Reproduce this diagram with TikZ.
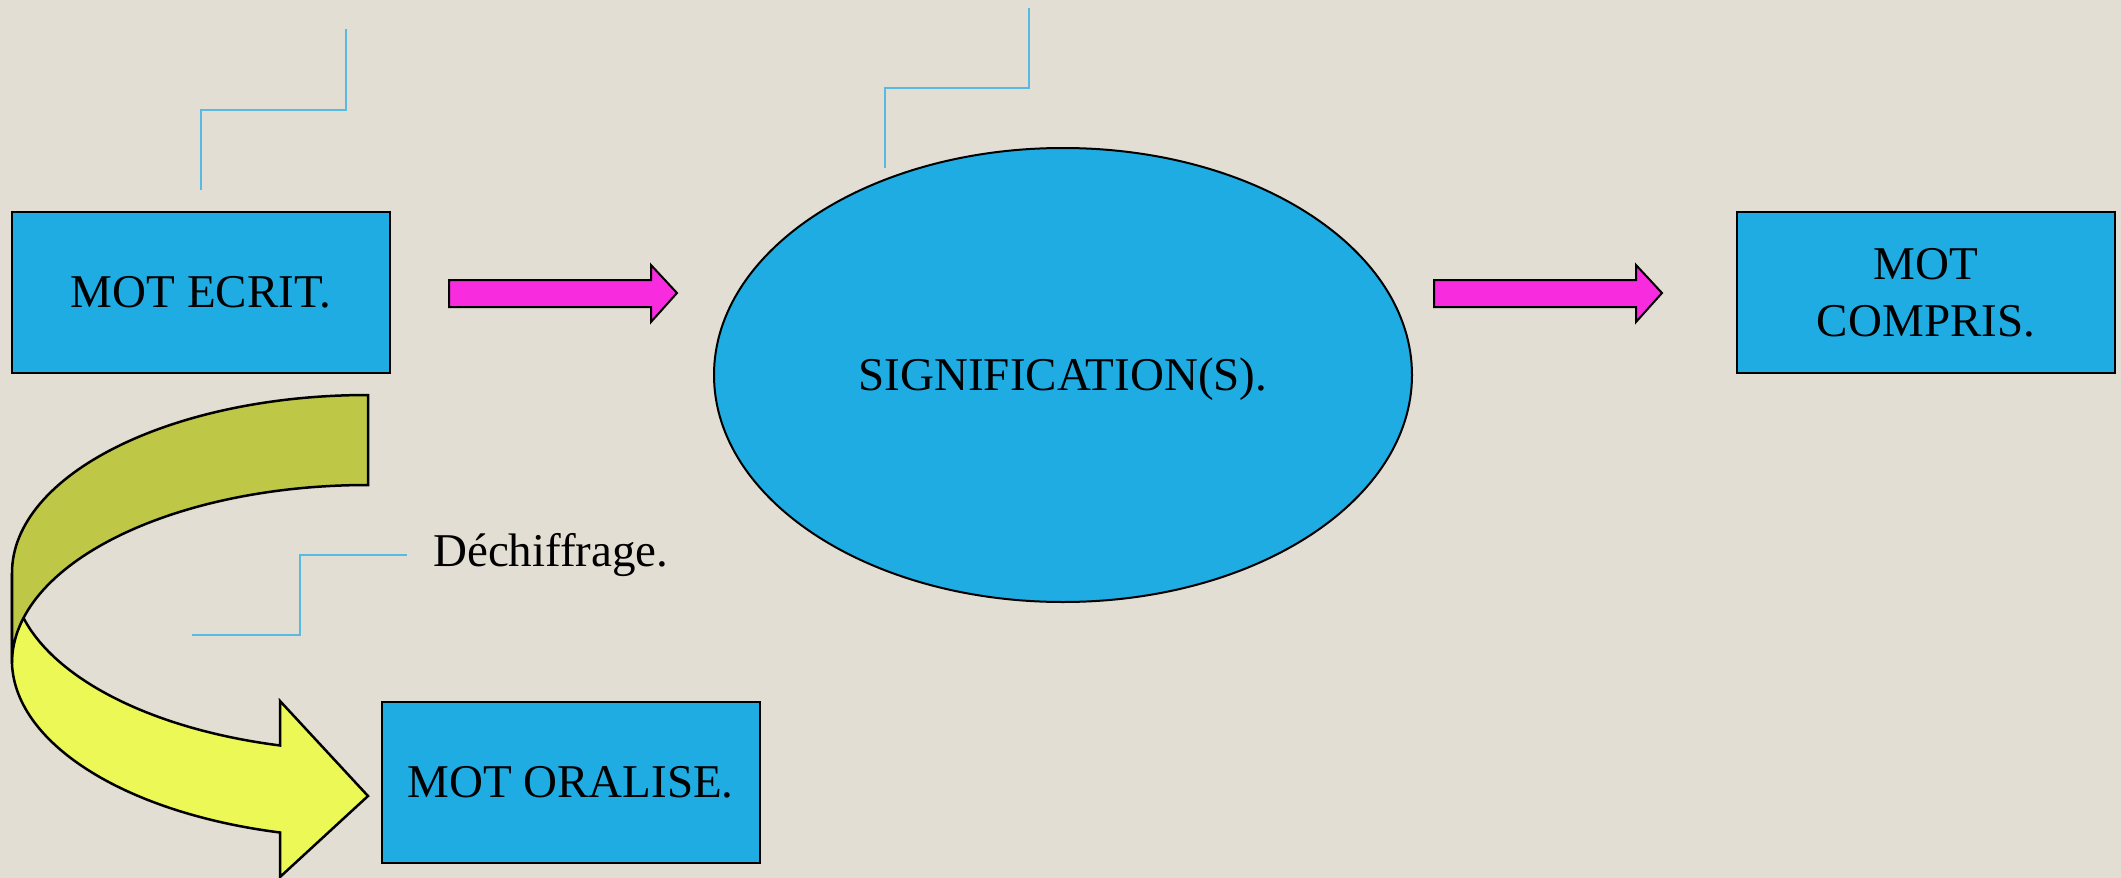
\documentclass[tikz,border=0pt]{standalone}
\usepackage{fontspec}
\setmainfont{Liberation Serif}
\usetikzlibrary{shapes.geometric}
\definecolor{bg}{RGB}{227,222,211}
\definecolor{boxblue}{RGB}{30,172,226}
\definecolor{pinkarr}{RGB}{249,43,222}
\definecolor{yell}{RGB}{236,248,85}
\definecolor{olive}{RGB}{191,200,70}
\definecolor{callout}{RGB}{88,186,226}
\tikzset{
  blockbox/.style={draw=black, line width=2pt, fill=boxblue, rectangle, minimum width=378pt, minimum height=161pt, inner sep=0pt, align=center, font=\fontsize{47}{57}\selectfont},
  bigoval/.style={draw=black, line width=2pt, fill=boxblue, ellipse, minimum width=698pt, minimum height=454pt, inner sep=0pt, text height=30pt, text depth=0pt, font=\fontsize{47}{57}\selectfont},
  blockarrow/.style={draw=black, line width=2pt, fill=pinkarr, line join=miter},
  curvearrow/.style={draw=black, line width=2.5pt, line join=miter},
  calloutline/.style={draw=callout, line width=2pt},
  plaintext/.style={font=\fontsize{47}{57}\selectfont, inner sep=0pt, anchor=base west}
}
\begin{document}
\begin{tikzpicture}[x=1pt, y=-1pt]
\fill[bg] (0,0) rectangle (2121,878);
\useasboundingbox (0,0) rectangle (2121,878);

% nodes
\node[blockbox] (ecrit) at (201,292.5) {MOT ECRIT.};
\node[bigoval] (sig) at (1063,375) {SIGNIFICATION(S).};
\node[blockbox] (compris) at (1926,292.5) {MOT\\COMPRIS.};
\node[blockbox] (oral) at (570.5,782.5) {MOT ORALISE.};
\node[plaintext] (dech) at (433,566) {Déchiffrage.};

% block arrows
\draw[blockarrow] (449,280) -- (651,280) -- (651,265) -- (677,293) -- (651,322) -- (651,307) -- (449,307) -- cycle;
\draw[blockarrow] (1434,280) -- (1636,280) -- (1636,265) -- (1662,293) -- (1636,322) -- (1636,307) -- (1434,307) -- cycle;

% curved arrow: front (yellow) part
\draw[curvearrow, fill=yell] (12,573)
  arc[start angle=180, end angle=104.3, x radius=356, y radius=178]
  -- (280,701) -- (368,796) -- (280,877) -- (280,832.5)
  arc[start angle=104.3, end angle=180, x radius=356, y radius=178]
  -- cycle;
% curved arrow: back (olive) part
\draw[curvearrow, fill=olive] (368,395)
  arc[start angle=270, end angle=180, x radius=356, y radius=178]
  -- (12,663)
  arc[start angle=180, end angle=270, x radius=356, y radius=178]
  -- cycle;

% callout lines
\draw[calloutline] (201,190) -- (201,110) -- (346,110) -- (346,29);
\draw[calloutline] (885,168) -- (885,88) -- (1029,88) -- (1029,8);
\draw[calloutline] (192,635) -- (300,635) -- (300,555) -- (407,555);
\end{tikzpicture}
\end{document}
